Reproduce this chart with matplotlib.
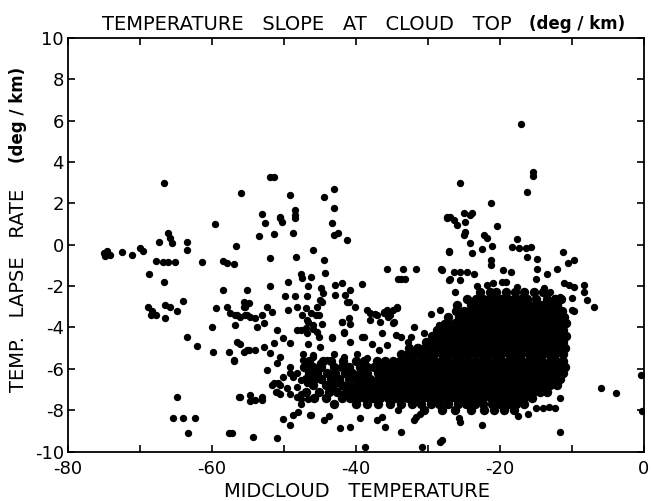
import matplotlib
matplotlib.use('Agg')
import matplotlib.pyplot as plt

plt.rcParams['axes.unicode_minus'] = False

# scattered soundings, (midcloud temperature, lapse rate at cloud top)
left_wing = [
    (-75.0, -0.40), (-74.6, -0.30), (-74.2, -0.48), (-74.8, -0.52), (-72.5, -0.34),
    (-71.1, -0.50), (-70.0, -0.16), (-69.6, -0.30), (-67.4, 0.15), (-66.1, 0.55),
    (-65.8, 0.35), (-65.6, 0.10), (-63.5, 0.15), (-63.5, -0.26), (-59.6, 1.00),
    (-67.8, -0.80), (-66.8, -0.85), (-66.1, -0.85), (-65.1, -0.85), (-61.4, -0.82),
    (-58.5, -0.80), (-57.9, -0.90), (-57.0, -0.92), (-68.7, -1.40), (-66.6, -1.80),
    (-58.5, -2.20), (-68.9, -3.00), (-68.3, -3.20), (-67.8, -3.40), (-68.5, -3.40),
    (-66.5, -2.90), (-65.8, -3.00), (-64.9, -3.20), (-66.5, -3.55), (-64.0, -2.70),
    (-59.4, -3.06), (-57.9, -3.00), (-57.5, -3.30), (-60.0, -4.00), (-63.5, -4.45),
    (-62.1, -4.90), (-59.8, -5.20), (-57.6, -5.20), (-57.0, -5.60), (-64.9, -7.35),
    (-65.4, -8.40), (-64.0, -8.40), (-62.3, -8.40), (-63.4, -9.10), (-57.6, -9.10),
    (-57.2, -9.10), (-66.6, 2.98),
]

mid_scatter = [
    (-56.6, -0.06), (-56.8, -3.40), (-56.1, -3.50), (-55.2, -3.40), (-55.6, -3.00),
    (-54.9, -2.80), (-56.1, -4.80), (-55.6, -5.20), (-54.9, -5.10), (-56.3, -7.35),
    (-55.1, -2.20), (-53.1, 1.48), (-50.5, 1.28), (-50.3, 1.10), (-48.4, 1.70),
    (-48.4, 1.45), (-43.0, 1.76), (-52.6, 1.03), (-43.3, 1.03), (-53.5, 0.42),
    (-51.4, 0.52), (-48.7, 0.55), (-43.0, 0.47), (-42.5, 0.55), (-41.2, 0.23),
    (-45.9, -0.26), (-52.0, -0.66), (-48.3, -0.58), (-44.5, -0.74), (-47.6, -1.42),
    (-46.3, -1.55), (-47.5, -1.63), (-44.3, -1.38), (-35.7, -1.19), (-33.5, -1.19),
    (-31.6, -1.19), (-33.7, -1.67), (-34.2, -1.67), (-33.2, -1.67), (-28.2, -1.19),
    (-27.1, -1.70), (-27.4, 1.28), (-27.1, -0.34), (-51.9, -2.00), (-49.4, -1.79),
    (-46.7, -2.00), (-44.9, -2.10), (-44.6, -2.35), (-42.9, -1.95), (-41.9, -1.84),
    (-40.8, -2.20), (-39.2, -1.90), (-49.8, -2.48), (-48.4, -2.48), (-46.8, -2.48),
    (-42.9, -2.43), (-41.5, -2.43), (-45.0, -2.67), (-41.2, -2.76), (-40.1, -3.00),
    (-55.6, -2.76), (-55.4, -3.00), (-56.5, -3.40), (-55.4, -3.40), (-54.7, -3.48),
    (-54.0, -3.56), (-53.1, -3.40), (-52.4, -3.00), (-51.7, -3.24), (-52.8, -3.80),
    (-53.8, -3.97), (-56.8, -3.89), (-51.0, -4.13), (-49.4, -3.16), (-48.2, -3.00),
    (-47.5, -3.40), (-46.3, -3.32), (-45.4, -3.00), (-45.2, -3.40), (-46.6, -3.72),
    (-45.9, -3.89), (-44.7, -3.84), (-47.0, -4.04), (-45.4, -4.20), (-48.2, -4.13),
    (-43.3, -4.45), (-41.7, -4.20), (-41.0, -3.56), (-41.9, -3.72), (-38.5, -3.16),
    (-38.0, -3.32), (-37.1, -3.40), (-36.1, -3.32), (-35.5, -3.48), (-34.8, -3.16),
    (-34.3, -3.00), (-35.7, -3.16), (-38.0, -3.64), (-36.6, -3.72), (-34.8, -3.80),
    (-38.9, -4.45), (-36.4, -4.29), (-34.5, -4.37), (-32.4, -4.45), (-28.7, -4.29),
    (-27.8, -3.80), (-27.3, -4.61), (-56.5, -4.69), (-55.1, -5.10), (-54.0, -5.10),
    (-52.8, -4.93), (-51.4, -4.77), (-50.1, -4.53), (-49.1, -4.77), (-51.9, -5.25),
    (-50.5, -5.42), (-57.0, -5.58), (-51.0, -5.74), (-49.1, -5.90), (-51.4, -6.70),
    (-50.5, -6.80), (-51.0, -7.10), (-56.1, -7.35), (-54.7, -7.27), (-53.1, -7.35),
    (-48.2, -6.22), (-46.8, -6.55), (-48.2, -6.87), (-45.9, -5.42), (-45.0, -5.74),
    (-46.3, -5.98), (-47.3, -5.58), (-52.4, -6.07), (-50.1, -6.39), (-49.1, -7.20),
    (-47.7, -7.44), (-54.7, -7.55), (-54.0, -7.50), (-53.1, -7.50), (-54.3, -9.30),
    (-51.0, -9.35), (-51.7, -6.80), (-50.8, -6.70), (-51.1, -7.10), (-50.6, -7.20),
    (-49.6, -6.95), (-48.2, -7.35), (-47.7, -7.20), (-47.0, -7.10), (-47.7, -7.70),
    (-46.6, -7.45), (-49.1, -6.20), (-48.7, -6.40), (-47.7, -6.55), (-46.8, -6.70),
    (-48.1, -8.10), (-48.7, -8.25), (-50.1, -8.45), (-49.1, -8.70), (-46.4, -8.25),
    (-51.45, 3.29), (-51.9, 3.29), (-56.0, 2.49), (-49.1, 2.40), (-44.5, 2.29),
    (-43.0, 2.69), (-50.5, 1.34), (-48.4, 1.29), (-47.0, -3.08), (-46.8, -3.65),
    (-45.6, -3.41), (-44.7, -2.76), (-41.9, -3.73), (-40.8, -3.81), (-41.0, -2.76),
    (-37.3, -3.33), (-36.1, -3.24), (-35.2, -3.41), (-34.3, -3.08), (-34.7, -3.73),
    (-47.7, -4.13), (-46.8, -4.29), (-45.9, -4.05), (-45.2, -4.45), (-46.6, -4.78),
    (-45.0, -4.94), (-47.3, -5.26), (-45.9, -5.34), (-43.3, -4.53), (-41.7, -4.29),
    (-40.8, -4.70), (-39.2, -4.45), (-37.8, -4.78), (-35.7, -4.86), (-36.8, -5.10),
    (-33.8, -4.45), (-32.7, -4.70), (-31.5, -4.94), (-30.3, -5.10), (-28.5, -3.89),
    (-30.6, -4.29), (-32.0, -3.97), (-29.6, -3.33), (-28.3, -3.16), (-43.1, -5.26),
    (-41.7, -5.42), (-44.0, -5.58), (-39.8, -5.26), (-38.5, -5.50), (-42.2, -8.88),
    (-40.8, -8.80), (-46.3, -8.24), (-44.5, -8.48), (-43.8, -8.30), (-37.1, -8.48),
    (-36.4, -8.32), (-35.9, -8.80), (-33.8, -9.05), (-31.7, -8.32), (-31.9, -8.48),
    (-31.1, -8.20), (-28.3, -9.53), (-38.7, -9.77), (-30.8, -9.77), (-34.1, -8.00),
    (-39.4, -8.40),
]

right_scatter = [
    (-17.1, 5.84), (-15.4, 3.53), (-15.4, 3.32), (-25.5, 2.97), (-16.3, 2.56),
    (-21.3, 2.00), (-26.9, 1.35), (-24.1, 1.44), (-27.3, 1.36), (-26.4, 1.20),
    (-25.0, 1.52), (-23.9, 1.52), (-24.8, 1.11), (-26.0, 0.95), (-20.4, 0.90),
    (-24.8, 0.63), (-25.0, 0.47), (-22.2, 0.47), (-21.8, 0.31), (-24.1, 0.07),
    (-22.5, -0.22), (-21.1, -0.06), (-27.1, -0.29), (-23.9, -0.39), (-17.6, 0.26),
    (-18.3, -0.10), (-17.4, -0.17), (-16.4, -0.17), (-15.7, -0.10), (-16.2, -0.58),
    (-14.8, -0.71), (-11.3, -0.34), (-21.3, -0.74), (-21.3, -0.98), (-12.0, -1.19),
    (-10.6, -0.90), (-9.7, -0.74), (-14.8, -1.19), (-13.4, -1.42), (-28.0, -1.22),
    (-26.4, -1.30), (-25.5, -1.30), (-24.5, -1.30), (-23.6, -1.42), (-26.9, -1.67),
    (-25.5, -1.70), (-19.5, -1.22), (-18.5, -1.30), (-15.0, -1.67), (-23.2, -2.00),
    (-21.8, -1.95), (-20.9, -1.87), (-19.7, -1.79), (-19.2, -1.79), (-17.6, -2.06),
    (-13.9, -2.10), (-13.0, -2.27), (-11.1, -1.87), (-10.4, -1.95), (-9.7, -2.06),
    (-8.3, -1.95), (-8.3, -2.27), (-7.9, -2.67), (-10.0, -2.59), (-26.2, -2.27),
    (-12.3, -2.59), (-11.6, -2.51), (-26.0, -3.00), (-10.0, -3.16), (-12.5, -3.00),
    (-6.9, -3.00), (-9.7, -3.20), (-11.3, -3.97), (-6.0, -6.95), (-3.9, -7.16),
    (-0.4, -6.30), (-0.2, -8.05), (-11.6, -9.05), (-11.6, -7.40), (-15.0, -7.90),
    (-14.0, -7.90), (-13.2, -7.85), (-12.3, -7.90), (-25.7, -8.40), (-25.5, -8.56),
    (-22.5, -8.72), (-28.0, -9.45), (-16.1, -8.20), (-17.5, -8.30),
]

# dense part of the cloud, one row of temperatures per lapse-rate level
upper_lapse = [-2.3, -2.6, -2.9, -3.2, -3.5, -3.8, -4.1, -4.4, -4.7, -5.0]
upper_temp = [
    [-22.8, -21.4, -20.5, -19.1, -17.9, -16.6, -15.3, -14.0],
    [-24.6, -23.3, -22.4, -21.5, -20.6, -19.8, -18.9, -17.9, -17.1, -16.2, -15.0, -13.4, -12.3, -11.5],
    [-25.9, -24.0, -23.1, -22.2, -21.3, -20.4, -19.5, -18.6, -17.7, -16.8, -15.9, -15.0, -14.1, -12.9, -12.0],
    [-26.1, -25.0, -24.1, -23.2, -22.3, -21.4, -20.6, -19.7, -18.8, -17.9, -17.0, -16.1, -15.2, -14.3,
     -13.3, -12.4, -11.4],
    [-27.2, -25.7, -24.7, -23.8, -22.9, -22.0, -21.1, -20.2, -19.3, -18.4, -17.5, -16.6, -15.7, -14.8,
     -13.9, -12.9, -12.0, -11.1],
    [-27.4, -26.3, -25.4, -24.5, -23.6, -22.6, -21.7, -20.8, -19.9, -19.0, -18.1, -17.2, -16.2, -15.3,
     -14.4, -13.5, -12.6, -11.6, -10.8],
    [-28.7, -27.8, -26.8, -25.9, -25.0, -24.1, -23.2, -22.2, -21.3, -20.4, -19.5, -18.6, -17.7, -16.8,
     -15.8, -14.9, -14.0, -13.1, -12.1, -11.2],
    [-29.5, -28.3, -27.4, -26.5, -25.5, -24.6, -23.7, -22.8, -21.9, -20.9, -20.0, -19.1, -18.2, -17.3,
     -16.3, -15.4, -14.5, -13.6, -12.7, -11.7, -10.8],
    [-30.3, -29.0, -28.0, -27.1, -26.1, -25.2, -24.3, -23.4, -22.4, -21.5, -20.6, -19.7, -18.7, -17.8,
     -16.9, -16.0, -15.0, -14.1, -13.2, -12.2, -11.3],
    [-32.6, -31.4, -30.4, -29.5, -28.6, -27.6, -26.7, -25.8, -24.8, -23.9, -23.0, -22.0, -21.1, -20.2,
     -19.2, -18.3, -17.4, -16.5, -15.5, -14.6, -13.7, -12.7, -11.8, -10.9],
]

lower_lapse = [-5.3, -5.6, -5.9, -6.2, -6.5, -6.8, -7.1, -7.4, -7.7, -8.0]
lower_temp = [
    [-33.8, -32.8, -31.9, -30.9, -30.0, -29.1, -28.1, -27.2, -26.3, -25.3, -24.4, -23.5, -22.5, -21.6,
     -20.7, -19.8, -18.8, -17.9, -17.0, -16.0, -15.1, -14.2, -13.2, -12.3, -11.3],
    [-46.5, -44.6, -43.5, -41.8, -40.0, -38.9, -37.1, -36.0, -34.9, -33.9, -32.9, -32.0, -31.0, -30.1,
     -29.1, -28.2, -27.2, -26.3, -25.4, -24.4, -23.5, -22.5, -21.6, -20.7, -19.7, -18.8, -17.8, -16.9,
     -15.9, -15.0, -14.1, -13.1, -12.2, -11.2],
    [-47.2, -45.9, -44.9, -43.0, -42.0, -40.9, -39.4, -38.4, -37.5, -36.5, -35.5, -34.5, -33.5, -32.6,
     -31.6, -30.7, -29.7, -28.8, -27.8, -26.9, -25.9, -25.0, -24.1, -23.1, -22.2, -21.2, -20.3, -19.3,
     -18.4, -17.4, -16.5, -15.6, -14.6, -13.7, -12.7, -11.8, -10.9],
    [-46.5, -45.4, -44.0, -42.9, -41.5, -40.5, -39.5, -38.5, -37.0, -36.0, -35.0, -34.0, -33.1, -32.1,
     -31.2, -30.2, -29.3, -28.3, -27.4, -26.4, -25.5, -24.5, -23.6, -22.6, -21.7, -20.7, -19.8, -18.8,
     -17.9, -16.9, -16.0, -15.0, -14.1, -13.1, -12.2, -11.2],
    [-47.0, -45.8, -44.8, -43.4, -42.4, -41.0, -40.0, -39.0, -38.0, -37.0, -36.0, -35.0, -34.5, -33.6,
     -32.6, -31.7, -30.7, -29.8, -28.8, -27.9, -26.9, -26.0, -25.0, -24.1, -23.1, -22.2, -21.2, -20.3,
     -19.3, -18.4, -17.4, -16.5, -15.5, -14.6, -13.6, -12.7, -11.7],
    [-46.0, -44.2, -43.2, -42.0, -40.9, -39.9, -38.9, -37.8, -36.8, -35.8, -34.9, -33.9, -33.0, -32.0,
     -31.1, -30.1, -29.2, -28.2, -27.3, -26.3, -25.4, -24.4, -23.5, -22.5, -21.6, -20.6, -19.7, -18.7,
     -17.8, -16.8, -15.9, -14.9, -14.0, -13.0, -12.1],
    [-46.9, -45.2, -43.8, -42.6, -41.4, -40.4, -39.3, -38.3, -37.3, -36.3, -35.3, -34.4, -33.4, -32.5,
     -31.5, -30.6, -29.6, -28.7, -27.7, -26.8, -25.8, -24.9, -23.9, -23.0, -22.0, -21.1, -20.1, -19.2,
     -18.2, -17.3, -16.3, -15.4, -14.4, -13.4],
    [-45.8, -44.2, -42.0, -40.8, -39.7, -38.7, -37.6, -36.6, -35.6, -34.6, -33.7, -32.7, -31.8, -30.8,
     -29.9, -28.9, -28.0, -27.0, -26.1, -25.1, -24.2, -23.2, -22.3, -21.3, -20.4, -19.4, -18.5, -17.5,
     -16.6, -15.6],
    [-43.0, -40.0, -38.4, -36.9, -35.2, -33.8, -32.2, -31.0, -29.6, -28.4, -27.2, -25.8, -24.7, -23.4,
     -22.3, -21.1, -20.0, -18.9, -17.7, -16.6],
    [-30.5, -28.0, -26.3, -24.0, -22.2, -20.8, -19.4, -18.0],
]

x_ticks = [-80, -70, -60, -50, -40, -30, -20, -10, 0]
x_labels = ['-80', '', '-60', '', '-40', '', '-20', '', '0']
y_ticks = [-10, -8, -6, -4, -2, 0, 2, 4, 6, 8, 10]
y_labels = ['-10', '-8', '-6', '-4', '-2', '0', '2', '4', '6', '8', '10']

sparse_t, sparse_l = [], []
for t, l in left_wing + mid_scatter + right_scatter:
    sparse_t.append(t)
    sparse_l.append(l)

dense_t, dense_l = [], []
for rows_l, rows_t in ((upper_lapse, upper_temp), (lower_lapse, lower_temp)):
    for l, row in zip(rows_l, rows_t):
        dense_t.extend(row)
        dense_l.extend([l] * len(row))

fig = plt.figure(figsize=(6.51, 5.01), dpi=100)
ax = fig.add_axes([0.1045, 0.0988, 0.8845, 0.8252])

ax.scatter(dense_t, dense_l, s=46, c='black', marker='o', linewidths=0)
ax.scatter(sparse_t, sparse_l, s=28, c='black', marker='o', linewidths=0)

ax.set_xlim(-80, 0)
ax.set_ylim(-10, 10)
ax.set_xticks(x_ticks)
ax.set_xticklabels(x_labels)
ax.set_yticks(y_ticks)
ax.set_yticklabels(y_labels)
ax.tick_params(direction='in', length=5, width=1.2, top=True, right=True,
               labelsize=13)
ax.tick_params(axis='y', pad=3)
ax.tick_params(axis='x', pad=6)
for s in ax.spines.values():
    s.set_linewidth(1.3)

fig.text(0.157, 0.952, 'TEMPERATURE   SLOPE   AT   CLOUD   TOP', fontsize=14,
         ha='left', va='center')
fig.text(0.812, 0.952, '(deg / km)', fontsize=12, fontweight='bold',
         ha='left', va='center')
fig.text(0.028, 0.42, 'TEMP.   LAPSE   RATE', fontsize=14, rotation=90,
         ha='center', va='center')
fig.text(0.028, 0.77, '(deg / km)', fontsize=12, fontweight='bold', rotation=90,
         ha='center', va='center')
fig.text(0.548, 0.018, 'MIDCLOUD   TEMPERATURE', fontsize=14,
         ha='center', va='center')

fig.savefig('out.png', dpi=100)
